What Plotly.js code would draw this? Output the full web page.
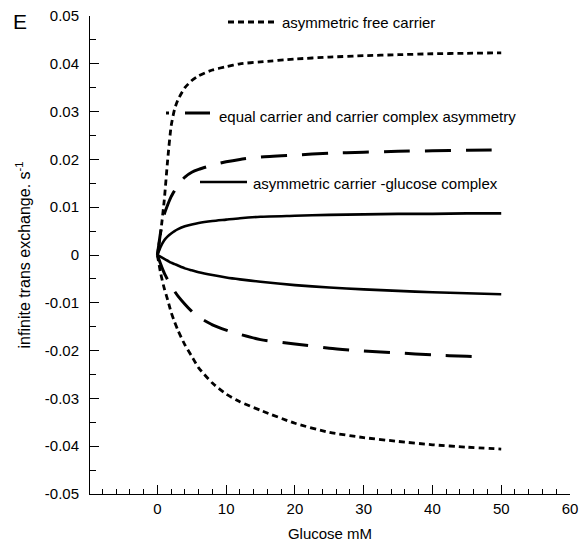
<!DOCTYPE html>
<html>
<head>
<meta charset="utf-8">
<script src="https://cdn.plot.ly/plotly-3.0.1.min.js"></script>
<style>html,body{margin:0;padding:0;background:#fff;}#chart{width:587px;height:544px;}</style>
</head>
<body>
<div id="chart"></div>
<script>
// Glucose concentrations (mM)
const glucose = [0, 0.5, 1, 1.5, 2, 2.5, 3, 4, 5, 6, 8, 10, 12, 15, 20, 25, 30, 35, 40, 45, 50];
const glucoseEqualNeg = [0, 0.5, 1, 1.5, 2, 2.5, 3, 4, 5, 6, 8, 10, 12, 15, 20, 25, 30, 35, 40, 45, 47.5];

// asymmetric free carrier
const freePos = [0, 0.005, 0.0115, 0.020, 0.027, 0.0305, 0.0325, 0.035, 0.0365, 0.0375, 0.0387, 0.0394, 0.0400, 0.0404, 0.0410, 0.0414, 0.0417, 0.0419, 0.0421, 0.0422, 0.0423];
const freeNeg = [0, -0.004, -0.007, -0.0094, -0.012, -0.0140, -0.0158, -0.0188, -0.0212, -0.0236, -0.0268, -0.0291, -0.0307, -0.0325, -0.0352, -0.0371, -0.0382, -0.0390, -0.0397, -0.0402, -0.0406];

// equal carrier and carrier complex asymmetry
const equalPos = [0, 0.005, 0.0085, 0.0105, 0.0122, 0.0135, 0.0148, 0.0163, 0.0173, 0.0179, 0.0188, 0.0195, 0.0200, 0.0205, 0.0209, 0.0213, 0.0215, 0.0217, 0.0218, 0.0219, 0.0220];
const equalNeg = [0, -0.002, -0.0038, -0.0052, -0.0065, -0.0076, -0.0086, -0.0103, -0.0118, -0.0130, -0.0146, -0.0157, -0.0166, -0.0177, -0.0186, -0.0195, -0.0201, -0.0205, -0.0209, -0.0212, -0.0213];

// asymmetric carrier-glucose complex
const complexPos = [0, 0.0018, 0.0031, 0.0039, 0.0045, 0.0050, 0.0054, 0.0060, 0.0064, 0.0067, 0.0071, 0.0074, 0.0077, 0.0080, 0.0082, 0.0084, 0.0085, 0.0086, 0.0086, 0.0087, 0.0087];
const complexNeg = [0, -0.0004, -0.0008, -0.0012, -0.0016, -0.0019, -0.0022, -0.0028, -0.0032, -0.0036, -0.0042, -0.0047, -0.0051, -0.0056, -0.0063, -0.0068, -0.0072, -0.0075, -0.0078, -0.0080, -0.0082];

const seriesNames = ['asymmetric free carrier', 'equal carrier and carrier complex asymmetry', 'asymmetric carrier -glucose complex'];

const xTickVals = [0, 10, 20, 30, 40, 50, 60];
const xTickText = ['0', '10', '20', '30', '40', '50', '60'];
const yTickVals = [-0.05, -0.04, -0.03, -0.02, -0.01, 0, 0.01, 0.02, 0.03, 0.04, 0.05];
const yTickText = ['-0.05', '-0.04', '-0.03', '-0.02', '-0.01', '0', '0.01', '0.02', '0.03', '0.04', '0.05'];

const FONT = 'Liberation Sans, Arial, sans-serif';
const dashFree = '6px,4px';
const dashEqual = '26px,15px';

function tr(x, y, dash, w) {
  return {x: x, y: y, type: 'scatter', mode: 'lines', showlegend: false, hoverinfo: 'skip',
          line: {color: '#000', width: w, dash: dash, shape: 'spline', smoothing: 0.6}};
}

const data = [
  tr(glucose, freePos, dashFree, 2.8),
  tr(glucose, freeNeg, dashFree, 2.8),
  tr(glucose, equalPos, dashEqual, 3),
  tr(glucoseEqualNeg, equalNeg, dashEqual, 3),
  tr(glucose, complexPos, 'solid', 2.6),
  tr(glucose, complexNeg, 'solid', 2.6)
];

// pixel -> paper helpers for the hand-drawn key
const L = 90, R = 570, T = 16, B = 494;
const px = v => (v - L) / (R - L);
const py = v => (B - v) / (B - T);

const shapes = [
  {type: 'line', xref: 'paper', yref: 'paper', x0: px(228), x1: px(276), y0: py(22), y1: py(22), line: {color: '#000', width: 2.8, dash: dashFree}},
  {type: 'line', xref: 'paper', yref: 'paper', x0: px(166), x1: px(210), y0: py(113), y1: py(113), line: {color: '#000', width: 3, dash: '3px,16px,25px'}},
  {type: 'line', xref: 'paper', yref: 'paper', x0: px(200), x1: px(247), y0: py(182), y1: py(182), line: {color: '#000', width: 2.6}}
];

const annotations = [
  {xref: 'paper', yref: 'paper', x: px(280), y: py(23), xanchor: 'left', yanchor: 'middle', text: seriesNames[0], showarrow: false, font: {family: FONT, size: 15, color: '#000'}},
  {xref: 'paper', yref: 'paper', x: px(217), y: py(116), xanchor: 'left', yanchor: 'middle', text: seriesNames[1], showarrow: false, font: {family: FONT, size: 15, color: '#000'}},
  {xref: 'paper', yref: 'paper', x: px(251), y: py(183), xanchor: 'left', yanchor: 'middle', text: seriesNames[2], showarrow: false, font: {family: FONT, size: 15, color: '#000'}},
  {xref: 'paper', yref: 'paper', x: px(20), y: py(22), xanchor: 'center', yanchor: 'middle', text: 'E', showarrow: false, font: {family: FONT, size: 21, color: '#000'}}
];

const layout = {
  width: 587, height: 544,
  margin: {l: 90, r: 17, t: 16, b: 50},
  paper_bgcolor: '#fff', plot_bgcolor: '#fff',
  font: {family: FONT, size: 15, color: '#000'},
  showlegend: false,
  xaxis: {
    range: [-9.8, 60], showgrid: false, zeroline: false,
    showline: true, linecolor: '#000', linewidth: 1,
    ticks: 'inside', ticklen: 9, tickwidth: 1, tickcolor: '#000',
    tickmode: 'array', tickvals: xTickVals, ticktext: xTickText,
    ticklabelstandoff: 1,
    minor: {ticks: 'inside', ticklen: 5, tickwidth: 1, tickcolor: '#000', dtick: 2, tick0: 0},
    title: {text: 'Glucose mM', font: {family: FONT, size: 15}, standoff: 12},
    fixedrange: true
  },
  yaxis: {
    range: [-0.05, 0.05], showgrid: false, zeroline: false,
    showline: true, linecolor: '#000', linewidth: 1,
    ticks: 'inside', ticklen: 9, tickwidth: 1, tickcolor: '#000',
    tickmode: 'array', tickvals: yTickVals, ticktext: yTickText,
    ticklabelstandoff: 7,
    minor: {ticks: 'inside', ticklen: 6, tickwidth: 1, tickcolor: '#000', dtick: 0.005, tick0: 0},
    title: {text: 'infinite trans exchange. s<sup>-1</sup>', font: {family: FONT, size: 16}, standoff: 10},
    fixedrange: true
  },
  shapes: shapes,
  annotations: annotations
};

Plotly.newPlot('chart', data, layout, {staticPlot: true, displayModeBar: false});
</script>
</body>
</html>
